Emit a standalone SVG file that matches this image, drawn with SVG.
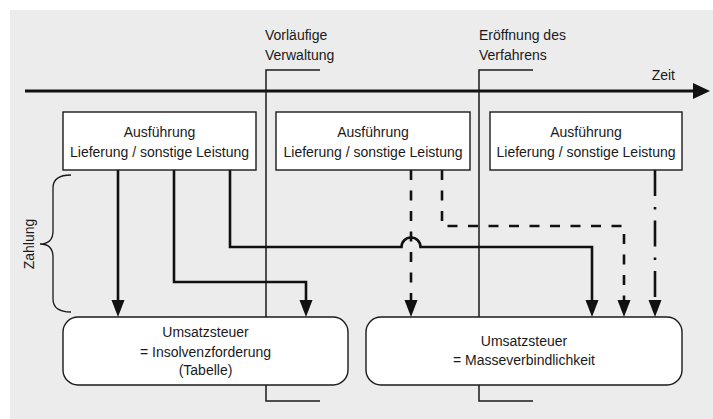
<svg xmlns="http://www.w3.org/2000/svg" width="713" height="419" viewBox="0 0 713 419">
<defs>
<style>
text{font-family:"Liberation Sans",Arial,sans-serif;font-size:14px;fill:#1a1a1a}
.c{text-anchor:middle}
.box{fill:#fff;stroke:#1a1a1a;stroke-width:1.4}
.phase{fill:none;stroke:#1a1a1a;stroke-width:1.5}
.conn{fill:none;stroke:#111;stroke-width:2.6}
.dash{stroke-dasharray:10 10.5}
.dashdot{stroke-dasharray:26 11 2.5 11}
</style>
<marker id="ah" markerUnits="userSpaceOnUse" viewBox="0 -7 18 14" refX="0" refY="0" markerWidth="18" markerHeight="14" orient="auto">
<path d="M0,-6.5 L17,0 L0,6.5 Z" fill="#111"/>
</marker>
</defs>
<rect x="10" y="10" width="703" height="409" fill="#ececec"/>

<g id="timeline">
<path d="M25,91 H694" stroke="#111" stroke-width="2.8" fill="none"/>
<polygon points="693,83 710,91 693,99" fill="#111"/>
<text x="675" y="80" style="text-anchor:end">Zeit</text>
</g>

<g id="phase-vorlaeufig">
<path class="phase" d="M320,70 H266 V401 H320"/>
<text x="265" y="40">Vorläufige</text>
<text x="265" y="60">Verwaltung</text>
</g>
<g id="phase-eroeffnung">
<path class="phase" d="M533,70 H479 V401 H533"/>
<text x="479" y="40">Eröffnung des</text>
<text x="479" y="60">Verfahrens</text>
</g>

<g id="zahlung">
<path d="M71,175 Q53,175 53,188 V231 Q53,244 40,244 Q53,244 53,257 V299 Q53,312 71,312" fill="none" stroke="#1a1a1a" stroke-width="1.3"/>
<text class="c" transform="translate(33.5,244) rotate(-90)">Zahlung</text>
</g>

<g id="connectors">
<path class="conn" d="M118,170 V300" marker-end="url(#ah)"/>
<path class="conn" d="M174,170 V282 H306 V300" marker-end="url(#ah)"/>
<path class="conn" d="M230,170 V247 H401.5 A9.5,9.5 0 0 1 420.5,247 H592 V300" marker-end="url(#ah)"/>
<path class="conn dash" d="M411,170 V300" marker-end="url(#ah)"/>
<path class="conn dash" d="M442,170 V226 H624 V300" marker-end="url(#ah)"/>
<path class="conn dashdot" d="M655,170 V300" marker-end="url(#ah)"/>
</g>

<g id="ausfuehrung-1">
<rect class="box" x="63" y="112" width="193" height="58"/>
<text class="c" x="159.5" y="137">Ausführung</text>
<text class="c" x="159.5" y="157">Lieferung / sonstige Leistung</text>
</g>
<g id="ausfuehrung-2">
<rect class="box" x="276" y="112" width="194" height="58"/>
<text class="c" x="373" y="137">Ausführung</text>
<text class="c" x="373" y="157">Lieferung / sonstige Leistung</text>
</g>
<g id="ausfuehrung-3">
<rect class="box" x="490" y="112" width="192" height="58"/>
<text class="c" x="586" y="137">Ausführung</text>
<text class="c" x="586" y="157">Lieferung / sonstige Leistung</text>
</g>

<g id="insolvenzforderung">
<rect class="box" x="63" y="317" width="285" height="68" rx="15" ry="15"/>
<text class="c" x="205.5" y="337">Umsatzsteuer</text>
<text class="c" x="205.5" y="357">= Insolvenzforderung</text>
<text class="c" x="205.5" y="375">(Tabelle)</text>
</g>
<g id="masseverbindlichkeit">
<rect class="box" x="366" y="317" width="316" height="68" rx="15" ry="15"/>
<text class="c" x="524" y="346">Umsatzsteuer</text>
<text class="c" x="524" y="365">= Masseverbindlichkeit</text>
</g>
</svg>
